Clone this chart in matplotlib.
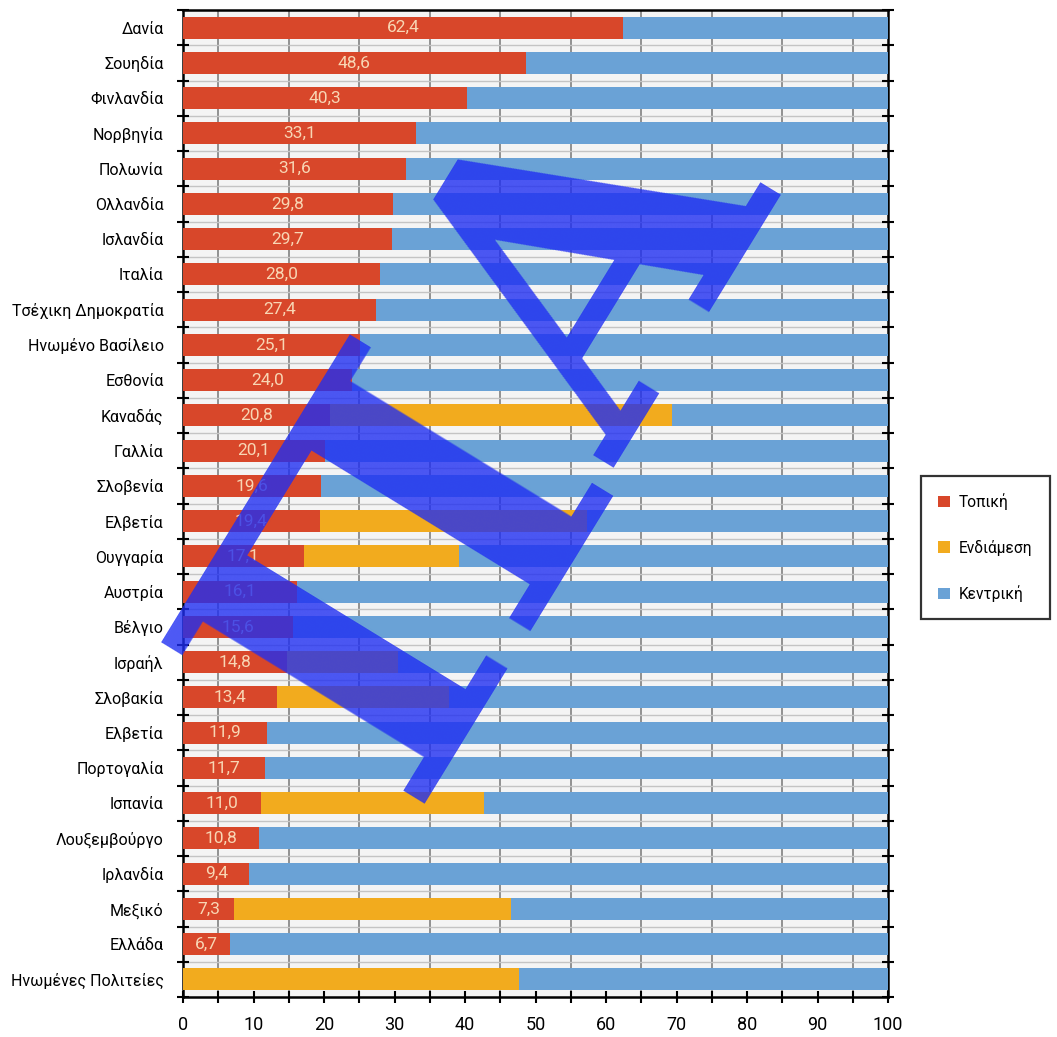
import matplotlib
matplotlib.use("Agg")
import matplotlib.pyplot as plt
from matplotlib.patches import Patch
import numpy as np

plt.rcParams['font.family'] = ['Roboto', 'DejaVu Sans']

countries = ["Δανία", "Σουηδία", "Φινλανδία", "Νορβηγία", "Πολωνία", "Ολλανδία",
             "Ισλανδία", "Ιταλία", "Τσέχικη Δημοκρατία", "Ηνωμένο Βασίλειο", "Εσθονία",
             "Καναδάς", "Γαλλία", "Σλοβενία", "Ελβετία", "Ουγγαρία", "Αυστρία", "Βέλγιο",
             "Ισραήλ", "Σλοβακία", "Ελβετία", "Πορτογαλία", "Ισπανία", "Λουξεμβούργο",
             "Ιρλανδία", "Μεξικό", "Ελλάδα", "Ηνωμένες Πολιτείες"]
local = [62.4, 48.6, 40.3, 33.1, 31.6, 29.8, 29.7, 28.0, 27.4, 25.1, 24.0, 20.8, 20.1,
         19.6, 19.4, 17.1, 16.1, 15.6, 14.8, 13.4, 11.9, 11.7, 11.0, 10.8, 9.4, 7.3, 6.7, 0.0]
intermediate = [0, 0, 0, 0, 0, 0, 0, 0, 0, 0, 0, 48.6, 0, 0, 37.9, 22.0, 0, 0, 15.7, 24.3,
                0, 0, 31.7, 0, 0, 39.2, 0, 47.7]
central = [100 - a - b for a, b in zip(local, intermediate)]
series_names = ["Τοπική", "Ενδιάμεση", "Κεντρική"]
colors = ["#d8472a", "#f2ab1e", "#6aa2d6"]

W, H = 1057, 1037
fig = plt.figure(figsize=(W / 100, H / 100), dpi=100)
ax = fig.add_axes([183 / W, 1 - 997 / H, (888 - 183) / W, (997 - 10) / H])
ax.set_facecolor("#f4f4f4")

y = np.arange(len(countries))
bh = 0.63
ax.barh(y, local, height=bh, color=colors[0], zorder=3)
ax.barh(y, intermediate, left=local, height=bh, color=colors[1], zorder=3)
left2 = [a + b for a, b in zip(local, intermediate)]
ax.barh(y, central, left=left2, height=bh, color=colors[2], zorder=3)

for yi, v in zip(y, local):
    if v > 0:
        ax.text(v / 2, yi, f"{v:.1f}".replace(".", ","), ha="center", va="center",
                color="#f8d6b4", fontsize=12.5, zorder=4)

ax.set_xlim(0, 100)
ax.set_ylim(len(countries) - 0.5, -0.5)

# gridlines
for gx in np.arange(5, 100, 10):
    ax.axvline(gx, color="#808080", lw=1.2, zorder=1)
for b in np.arange(0.5, len(countries) - 0.5, 1):
    ax.axhline(b, color="#c4c4c4", lw=1.0, zorder=1)

ax.set_yticks(y)
ax.set_yticklabels(countries, fontsize=11.5)
ax.set_yticks(np.arange(-0.5, len(countries), 1), minor=True)
ax.tick_params(axis="y", which="major", length=0, pad=14)
ax.tick_params(axis="y", which="minor", direction="inout", length=8, width=1.5,
               right=True, color="black")
ax.set_xticks(np.arange(0, 101, 10))
ax.set_xticks(np.arange(5, 100, 10), minor=True)
ax.tick_params(axis="x", which="both", direction="inout", length=8, width=1.5, color="black")
ax.tick_params(axis="x", which="major", labelsize=13, pad=10)
for s in ax.spines.values():
    s.set_linewidth(1.8)
    s.set_color("black")

handles = [Patch(facecolor=c, edgecolor="none") for c in colors]
leg = fig.legend(handles, series_names, loc="upper left",
                 bbox_to_anchor=(921 / W, 1 - 476 / H), frameon=True, fancybox=False,
                 fontsize=11.2, handlelength=0.75, handleheight=0.75, handletextpad=0.6,
                 labelspacing=1.9, borderpad=1.1, borderaxespad=0)
leg.get_frame().set_edgecolor("black")
leg.get_frame().set_linewidth(1.6)

# watermark
wm_color = (0.12, 0.18, 0.95)
for ch, (px, py), fs in zip("ΠΑ", [(410, 572), (604, 277)], [305, 290]):
    fig.text(px / W, 1 - py / H, ch, rotation=58.5, rotation_mode="anchor",
             ha="center", va="center", fontsize=fs, family="DejaVu Serif",
             fontweight="bold", color=wm_color, alpha=0.8, zorder=10)

fig.savefig("out.png", dpi=100)
